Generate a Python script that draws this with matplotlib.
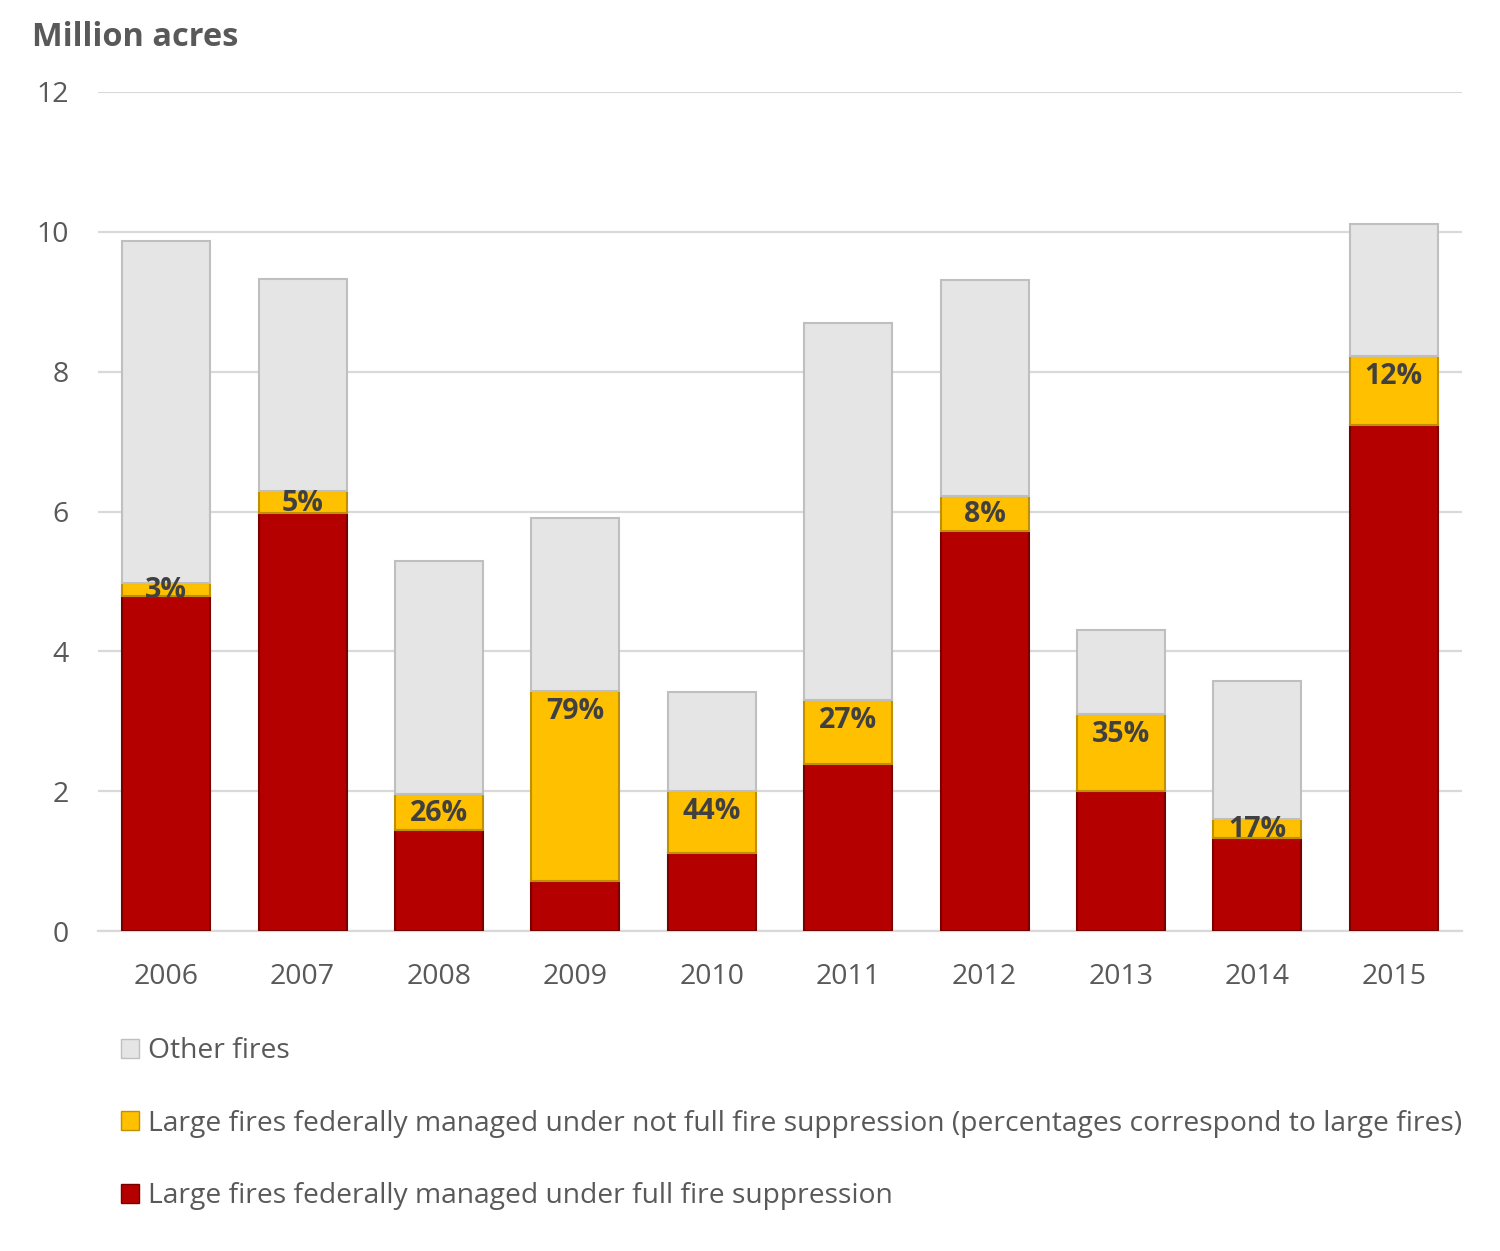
import matplotlib
matplotlib.use("Agg")
import matplotlib.pyplot as plt
from matplotlib.patches import Patch

plt.rcParams['font.family'] = ['Open Sans', 'DejaVu Sans']

years = ["2006", "2007", "2008", "2009", "2010", "2011", "2012", "2013", "2014", "2015"]
full_suppression = [4.79, 5.98, 1.44, 0.72, 1.12, 2.39, 5.72, 2.00, 1.33, 7.24]
not_full_suppression = [0.19, 0.31, 0.52, 2.71, 0.88, 0.91, 0.50, 1.10, 0.27, 0.98]
other_fires = [4.89, 3.03, 3.33, 2.48, 1.42, 5.40, 3.09, 1.20, 1.98, 1.89]
pct_labels = ["3%", "5%", "26%", "79%", "44%", "27%", "8%", "35%", "17%", "12%"]

legend_labels = [
    "Other fires",
    "Large fires federally managed under not full fire suppression (percentages correspond to large fires)",
    "Large fires federally managed under full fire suppression",
]

RED, RED_E = "#B50000", "#7A0000"
YEL, YEL_E = "#FFC000", "#BF9000"
GRY, GRY_E = "#E5E5E5", "#BFBFBF"
TXT = "#595959"

fig = plt.figure(figsize=(15, 12.51), dpi=100)
ax = fig.add_axes([98/1500, 1 - 931/1251, 1364/1500, (931-92)/1251])

x = list(range(len(years)))
w = 0.645
bottom2 = full_suppression
bottom3 = [a + b for a, b in zip(full_suppression, not_full_suppression)]
ax.bar(x, full_suppression, w, color=RED, edgecolor=RED_E, linewidth=1.5, zorder=3)
ax.bar(x, not_full_suppression, w, bottom=bottom2, color=YEL, edgecolor=YEL_E, linewidth=1.5, zorder=3)
ax.bar(x, other_fires, w, bottom=bottom3, color=GRY, edgecolor=GRY_E, linewidth=1.5, zorder=3)

for i in x:
    top = bottom3[i]
    center = full_suppression[i] + not_full_suppression[i] / 2
    y = max(top - 0.29, center - 0.02)
    ax.text(i, y, pct_labels[i], ha='center', va='center', fontsize=20.5,
            fontweight='bold', color="#404040", zorder=5)

ax.set_xlim(-0.5, len(years) - 0.5)
ax.set_ylim(0, 12)
ax.set_yticks(range(0, 13, 2))
ax.set_xticks(x)
ax.set_xticklabels(years)
ax.tick_params(axis='both', length=0, labelsize=20.5, colors=TXT)
ax.tick_params(axis='y', pad=21)
ax.tick_params(axis='x', pad=23)
ax.grid(axis='y', color="#D9D9D9", linewidth=1.6, zorder=0)
for s in ['top', 'right', 'left']:
    ax.spines[s].set_visible(False)
ax.spines['bottom'].set_color("#D9D9D9")
ax.spines['bottom'].set_linewidth(1.6)

fig.text(32/1500, 1 - 38/1251, "Million acres", fontsize=23.4, fontweight='bold',
         color=TXT, ha='left', va='center')

handles = [Patch(facecolor=GRY, edgecolor=GRY_E),
           Patch(facecolor=YEL, edgecolor=YEL_E),
           Patch(facecolor=RED, edgecolor=RED_E)]
leg = fig.legend(handles, legend_labels, loc='upper left',
                 bbox_to_anchor=(121/1500, 1 - 1037/1251), frameon=False,
                 fontsize=20.3, labelcolor=TXT, handlelength=0.65, handleheight=0.65,
                 handletextpad=0.3, labelspacing=1.58, borderpad=0, borderaxespad=0)

fig.savefig("out.png", dpi=100, facecolor="white")
